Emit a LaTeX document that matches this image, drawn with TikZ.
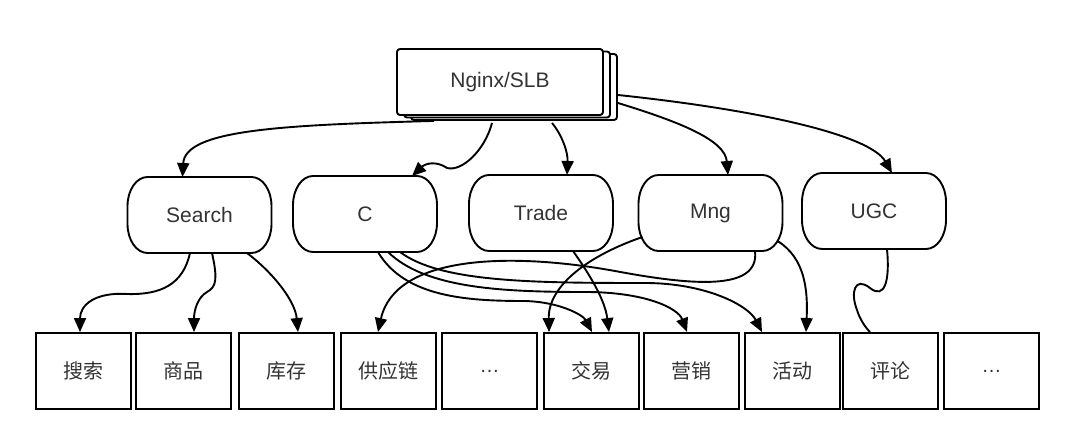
\documentclass[tikz,border=0pt]{standalone}
\usepackage{fontspec}
\setmainfont{Liberation Sans}
\newfontfamily\cjk{Noto Sans CJK SC}
\usetikzlibrary{arrows.meta,calc}
\definecolor{txt}{HTML}{333333}
\newcommand\drawpill[1]{\draw[line width=1.9pt,fill=white]
  ($(#1.north west)+(20,0)$) -- ($(#1.north east)+(-20,0)$)
  arc[start angle=90,end angle=0,x radius=20pt,y radius=29pt] -- ($(#1.south east)+(0,-29)$)
  arc[start angle=0,end angle=-90,x radius=20pt,y radius=29pt] -- ($(#1.south west)+(20,0)$)
  arc[start angle=270,end angle=180,x radius=20pt,y radius=29pt] -- ($(#1.north west)+(0,29)$)
  arc[start angle=180,end angle=90,x radius=20pt,y radius=29pt] -- cycle;}
\begin{document}
\begin{tikzpicture}[x=1pt,y=-1pt,
  lbl/.style={text=txt,font=\fontsize{21}{25}\selectfont},
  stackbox/.style={draw,line width=1.9pt,fill=white,rounded corners=3pt,minimum width=206pt,minimum height=66pt},
  pill/.style={outer sep=0pt,minimum width=144pt,minimum height=76pt,lbl},
  box/.style={draw,line width=1.9pt,minimum width=95pt,minimum height=76pt,text=txt,font=\cjk\fontsize{20}{24}\selectfont},
  dots/.style={box,font=\fontsize{20}{24}\selectfont},
  conn/.style={line width=1.9pt,-{Triangle[length=14pt,width=12pt]}},
  plain/.style={line width=1.9pt}]
\useasboundingbox[fill=white] (0,0) rectangle (1080,427);
% Nginx stack
\node[stackbox] (ngx3) at (514,87) {};
\node[stackbox] (ngx2) at (507,84.5) {};
\node[stackbox,lbl] (ngx) at (500,82) {Nginx/SLB};
% services
\node[pill] (search) at (199.5,215) {};
\node[pill] (c) at (365,214) {};
\node[pill] (trade) at (541,213) {};
\node[pill] (mng) at (710.5,213) {};
\node[pill] (ugc) at (874,211) {};
\drawpill{search}\drawpill{c}\drawpill{trade}\drawpill{mng}\drawpill{ugc}
\node[lbl] (searcht) at (search) {Search};
\node[lbl] (ct) at (c) {C};
\node[lbl] (tradet) at (trade) {Trade};
\node[lbl] (mngt) at (mng) {Mng};
\node[lbl] (ugct) at (ugc) {UGC};
% bottom boxes
\node[box] (b1) at (83.5,371) {搜索};
\node[box] (b2) at (183.5,371) {商品};
\node[box] (b3) at (286.5,371) {库存};
\node[box] (b4) at (388.5,371) {供应链};
\node[dots] (b5) at (489.5,371) {…};
\node[box] (b6) at (591.5,371) {交易};
\node[box] (b7) at (691.5,371) {营销};
\node[box] (b8) at (792.5,371) {活动};
\node[box] (b9) at (890.5,371) {评论};
\node[dots] (b10) at (991.5,371) {…};
% Nginx to services
\draw[conn] ($(ngx.south west)+(38,5)$) .. controls (280,125) and (185,130) .. ($(search.north)+(-17,0)$);
\draw[conn] ($(ngx.south)+(-8,7)$) .. controls (485,150) and (462,172) .. (447,168) .. controls (437,161) and (426,163) .. ($(c.north)+(47,0)$);
\draw[conn] ($(ngx.south)+(52,7)$) .. controls (562,135) and (568,152) .. ($(trade.north)+(26,0)$);
\draw[conn] ($(ngx.east)+(14,21)$) .. controls (680,122) and (725,140) .. ($(mng.north)+(17.5,0)$);
\draw[conn] ($(ngx.east)+(14,13)$) .. controls (760,110) and (870,135) .. ($(ugc.north)+(18,0)$);
% Search
\draw[conn] ($(search.south)+(-9.5,0)$) .. controls (183,285) and (160,295) .. (127,294) .. controls (95,292) and (80,305) .. ($(b1.north)+(-3.5,0)$);
\draw[conn] ($(search.south)+(12.5,0)$) .. controls (218,280) and (216,287) .. (207,292) .. controls (198,297) and (194,310) .. ($(b2.north)+(10.5,0)$);
\draw[conn] ($(search.south)+(47.5,0)$) .. controls (272,272) and (295,300) .. ($(b3.north)+(11.5,0)$);
% C
\draw[conn] ($(c.south)+(13,0)$) .. controls (405,298) and (470,301) .. (525,301) .. controls (560,302) and (583,315) .. ($(b6.north)+(0.5,0)$);
\draw[conn] ($(c.south)+(23,0)$) .. controls (425,288) and (500,292) .. (585,292) .. controls (645,292) and (678,308) .. ($(b7.north)+(-4.5,0)$);
\draw[conn] ($(c.south)+(35,0)$) .. controls (440,282) and (530,283) .. (645,283) .. controls (705,283) and (748,305) .. ($(b8.north)+(-30.5,0)$);
% Trade
\draw[conn] ($(trade.south)+(32,0)$) .. controls (590,275) and (605,300) .. ($(b6.north)+(17.5,0)$);
% Mng
\draw[conn] ($(mng.south west)+(4,-14)$) .. controls (590,255) and (548,285) .. ($(b6.north west)+(6,0)$);
\draw[conn] ($(mng.south)+(44.5,0)$) .. controls (760,292) and (690,285) .. (615,271) .. controls (510,252) and (395,255) .. ($(b4.north)+(-10.5,0)$);
\draw[conn] ($(mng.south east)+(-5,-10)$) .. controls (805,258) and (808,290) .. ($(b8.north)+(13.5,0)$);
% UGC
\draw[plain] ($(ugc.south)+(13,0)$) .. controls (890,280) and (885,300) .. (870,288) .. controls (855,276) and (850,292) .. (857,310) .. controls (860,320) and (866,328) .. ($(b9.north)+(-20.5,0)$);
\end{tikzpicture}
\end{document}
